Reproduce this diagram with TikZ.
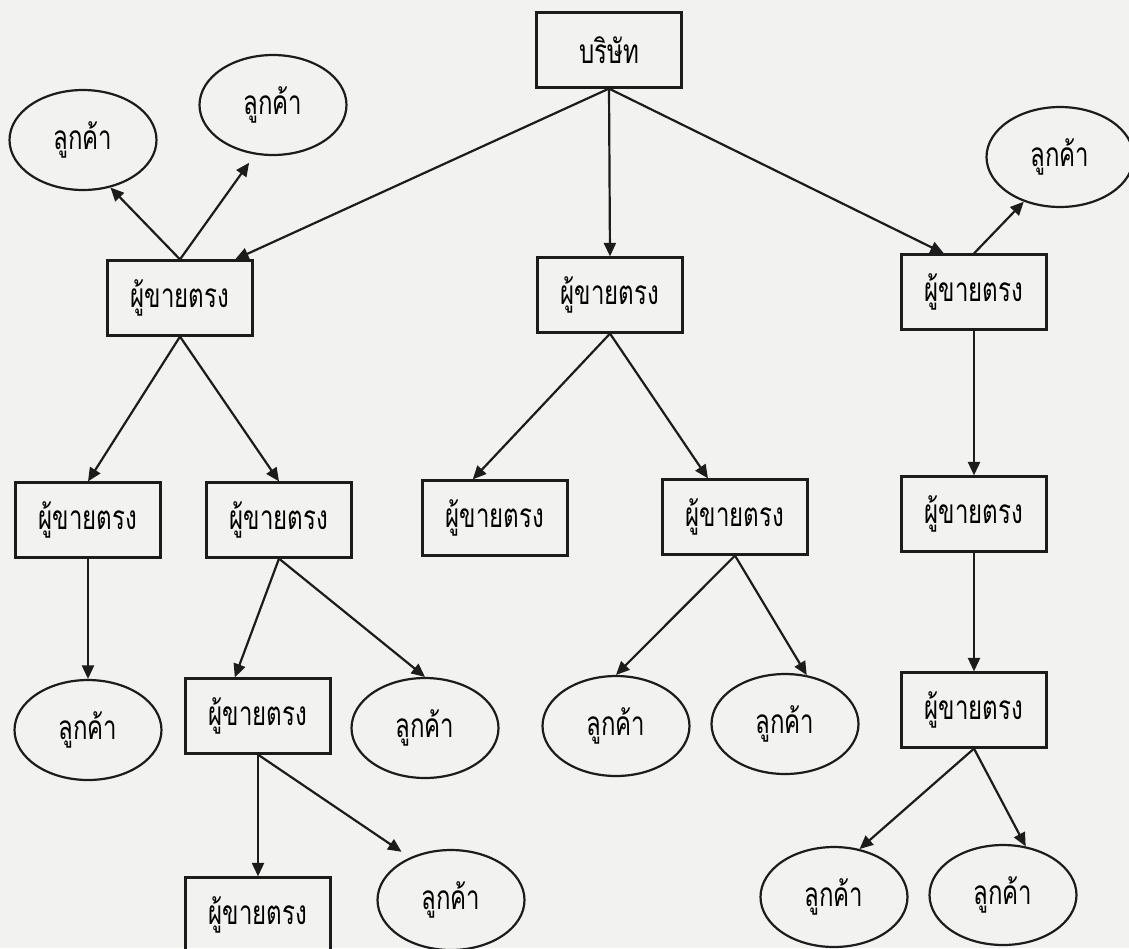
\documentclass[tikz,border=0pt]{standalone}
\usepackage{fontspec}
\usepackage{xcolor}
\usetikzlibrary{arrows.meta,shapes.geometric}
\newfontfamily\thaifont[Script=Thai,FakeStretch=0.72]{Loma}
\definecolor{paper}{RGB}{242,242,240}
\definecolor{ink}{RGB}{28,28,28}

\begin{document}
\begin{tikzpicture}[x=0.02cm, y=-0.02cm,
        box/.style={rectangle,draw=ink,line width=1.25pt,inner sep=0pt,
          minimum width=2.9cm,minimum height=1.5cm,font=\thaifont\fontsize{19}{22}\selectfont},
        oval/.style={ellipse,draw=ink,line width=1.25pt,inner sep=0pt,
          minimum width=2.94cm,minimum height=2cm,font=\thaifont\fontsize{19}{22}\selectfont},
        arrow/.style={-{Triangle[length=2.7mm,width=2.4mm]},draw=ink,line width=1.25pt}]
        \useasboundingbox[fill=paper] (0,0) rectangle (1129,948);
        \node[box] (co) at (609,50) {บริษัท};
        \node[box] (s1) at (180,298) {ผู้ขายตรง};
        \node[box] (s2) at (610,295) {ผู้ขายตรง};
        \node[box] (s3) at (974,292) {ผู้ขายตรง};
        \node[oval] (c1) at (83,140) {ลูกค้า};
        \node[oval] (c2) at (273,105) {ลูกค้า};
        \node[oval] (c3) at (1060,157) {ลูกค้า};
        \node[box] (s11) at (88,520) {ผู้ขายตรง};
        \node[box] (s12) at (279,520) {ผู้ขายตรง};
        \node[box] (s21) at (495,518) {ผู้ขายตรง};
        \node[box] (s22) at (735,517) {ผู้ขายตรง};
        \node[box] (s31) at (974,514) {ผู้ขายตรง};
        \node[oval] (c11) at (88,730) {ลูกค้า};
        \node[box] (s121) at (258,716) {ผู้ขายตรง};
        \node[oval] (c12) at (425,728) {ลูกค้า};
        \node[oval] (c21) at (616,726) {ลูกค้า};
        \node[oval] (c22) at (785,724) {ลูกค้า};
        \node[box] (s311) at (974,710) {ผู้ขายตรง};
        \node[box] (s1211) at (258,915) {ผู้ขายตรง};
        \node[oval] (c121) at (451,900) {ลูกค้า};
        \node[oval] (c31) at (834,897) {ลูกค้า};
        \node[oval] (c32) at (1003,895) {ลูกค้า};
        \draw[arrow] (co.south) -- (s1.35);
        \draw[arrow] (co.south) -- (s2.north);
        \draw[arrow] (co.south) -- (s3.128);
        \draw[arrow] (s1.north) -- (c1.300);
        \draw[arrow,shorten >=0.2cm] (s1.north) -- (c2.250);
        \draw[arrow] (s3.north) -- (c3.231);
        \draw[arrow] (s1.south) -- (s11.north);
        \draw[arrow] (s1.south) -- (s12.north);
        \draw[arrow] (s2.south) -- (s21.120);
        \draw[arrow] (s2.south) -- (s22.125);
        \draw[arrow] (s3.south) -- (s31.north);
        \draw[arrow] (s11.south) -- (c11.north);
        \draw[arrow] (s12.south) -- (s121.121);
        \draw[arrow] (s12.south) -- (c12.north);
        \draw[arrow] (s22.south) -- (c21.north);
        \draw[arrow] (s22.south) -- (c22.66);
        \draw[arrow] (s31.south) -- (s311.north);
        \draw[arrow] (s121.south) -- (s1211.north);
        \draw[arrow,shorten >=0.2cm] (s121.south) -- (c121.134);
        \draw[arrow] (s311.south) -- (c31.62);
        \draw[arrow] (s311.south) -- (c32.65);
      \end{tikzpicture}
\end{document}
